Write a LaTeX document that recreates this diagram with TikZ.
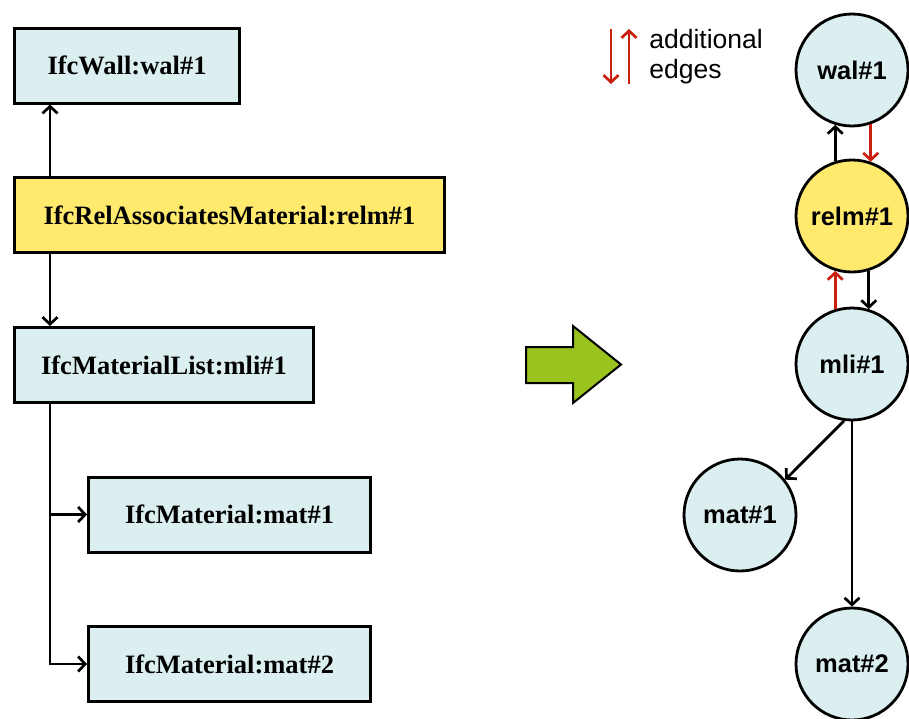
\documentclass[tikz,border=0pt]{standalone}
\usepackage{fontspec}
\usepackage{tikz}
\usetikzlibrary{arrows.meta}
\setmainfont{Liberation Serif}
\setsansfont{Liberation Sans}

\begin{document}
\begin{tikzpicture}[x=1pt,y=-1pt,>={Straight Barb[length=7pt,width=15pt]},line width=2.7pt,
  box node/.style={rectangle,draw,fill=lightcyan,line width=3pt,anchor=west,
    minimum height=75pt,font=\fontsize{26.5}{30}\selectfont\bfseries},
  circ node/.style={circle,draw,fill=lightcyan,minimum size=112pt,inner sep=0pt,line width=2.8pt,
    font=\sffamily\fontsize{25.5}{28}\selectfont\bfseries}]
  \definecolor{lightcyan}{RGB}{219,239,240}
  \definecolor{relyellow}{RGB}{255,234,110}
  \definecolor{arrowgreen}{RGB}{155,195,30}
  \definecolor{edgered}{RGB}{200,32,14}
  \useasboundingbox (0,0) rectangle (909,718);

  % tree of the IFC instances
  \node[box node, minimum width=225pt] (wal) at (13,65.5) {IfcWall:wal\#1};
  \node[box node, minimum width=430pt, fill=relyellow] (relm) at (13,215) {IfcRelAssociatesMaterial:relm\#1};
  \node[box node, minimum width=299pt] (mli) at (13,365) {IfcMaterialList:mli\#1};
  \node[box node, minimum width=282pt] (mat1) at (87,514.5) {IfcMaterial:mat\#1};
  \node[box node, minimum width=282pt] (mat2) at (87,664) {IfcMaterial:mat\#2};

  \draw[->] ([xshift=37pt]relm.north west) -- ([xshift=37pt]wal.south west);
  \draw[->] ([xshift=37pt]relm.south west) -- ([xshift=37pt]mli.north west);
  \draw[->] ([xshift=37pt]mli.south west) |- (mat1);
  \draw[->] ([xshift=37pt]mli.south west) |- (mat2);

  % big arrow
  \draw[fill=arrowgreen,line width=2pt,line join=miter]
    (526,347) -- (573,347) -- (573,326) -- (621,364.5) -- (573,403) -- (573,383) -- (526,383) -- cycle;

  % graph
  \node[circ node] (cwal) at (852,70) {wal\#1};
  \node[circ node, fill=relyellow] (crelm) at (852,216) {relm\#1};
  \node[circ node] (cmli) at (852,364) {mli\#1};
  \node[circ node] (cmat1) at (740,515) {mat\#1};
  \node[circ node] (cmat2) at (852,664) {mat\#2};

  \draw[->] (crelm.107) -- (cwal.253);
  \draw[->] (crelm.287) -- (cmli.73);
  \draw[->,edgered] (cwal.289) -- (crelm.71);
  \draw[->,edgered] (cmli.107) -- (crelm.253);
  \draw[->] (cmli.262) -- (cmat1.38);
  \draw[->] (cmli.south) -- (cmat2.north);

  % legend
  \coordinate (ldown) at (611,29);
  \coordinate (lup) at (629,84);
  \draw[->,edgered] (ldown) -- (ldown |- lup);
  \draw[->,edgered] (lup) -- (lup |- ldown);
  \node[anchor=north west,align=left,inner sep=0pt,
    font=\sffamily\fontsize{26.5}{30}\selectfont] (legend) at (648,28) {additional\\edges};
\end{tikzpicture}
\end{document}
